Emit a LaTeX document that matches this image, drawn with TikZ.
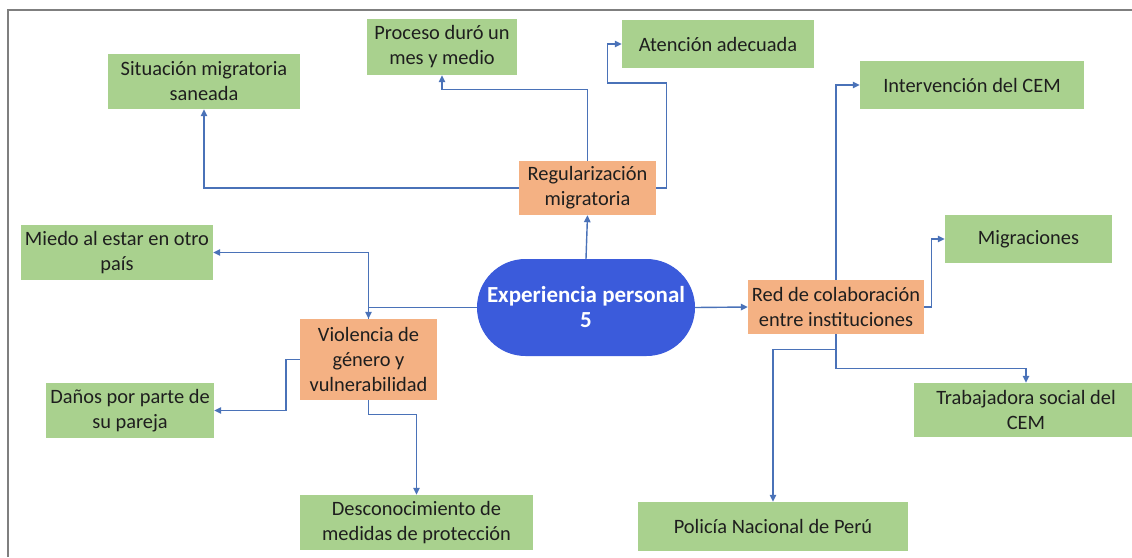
\documentclass[tikz,border=0pt]{standalone}
\usepackage{fontspec}
\setmainfont{Carlito}
\usetikzlibrary{arrows.meta,calc}
\definecolor{greenfill}{HTML}{A9D18E}
\definecolor{orangefill}{HTML}{F4B183}
\definecolor{bluefill}{HTML}{3B5BDB}
\definecolor{conncol}{HTML}{4A72B8}
\definecolor{framecol}{HTML}{7F7F7F}
\definecolor{txtcol}{HTML}{1E1E1E}
\begin{document}
\begin{tikzpicture}[x=1pt,y=-1pt,
  basebox/.style={inner sep=0pt, align=center, text=txtcol, font=\fontsize{20.4}{25}\selectfont},
  greenbox/.style={basebox, fill=greenfill},
  orangebox/.style={basebox, fill=orangefill},
  centerbox/.style={inner sep=0pt, align=center, text=white, fill=bluefill, font=\fontsize{23}{25}\selectfont\bfseries},
  arr/.style={draw=conncol, line width=1.4pt, -{Triangle[length=7pt,width=6.5pt]}},
  framestyle/.style={draw=framecol, line width=1.5pt}
]
\useasboundingbox (0,0) rectangle (1132,557);
% frame
\coordinate (fbl) at (8,557);
\coordinate (ftl) at (8,10);
\coordinate (ftr) at (1132,10);
\draw[framestyle] (fbl) -- (ftl) -- (ftr);

% nodes
\node[greenbox, minimum width=192pt, minimum height=55pt] (sit) at (204,81.5) {Situación migratoria\\saneada};
\node[greenbox, minimum width=150pt, minimum height=56pt] (proc) at (442,47) {Proceso duró un\\mes y medio};
\node[greenbox, minimum width=192pt, minimum height=48pt] (aten) at (718,44) {Atención adecuada};
\node[greenbox, minimum width=224pt, minimum height=48pt] (inter) at (972,85) {Intervención del CEM};
\node[greenbox, minimum width=167pt, minimum height=48pt] (migr) at (1028.5,239) {Migraciones};
\node[orangebox, minimum width=137pt, minimum height=54pt] (regu) at (587.5,188) {Regularización\\migratoria};
\node[greenbox, minimum width=192pt, minimum height=55pt] (miedo) at (117,252.5) {Miedo al estar en otro\\país};
\node[orangebox, minimum width=137pt, minimum height=81pt] (viol) at (368.5,359.5) {Violencia de\\género y\\vulnerabilidad};
\node[greenbox, minimum width=168pt, minimum height=55pt] (danos) at (130,410.5) {Daños por parte de\\su pareja};
\node[greenbox, minimum width=233pt, minimum height=55pt] (desc) at (416.5,522.5) {Desconocimiento de\\medidas de protección};
\node[centerbox, minimum width=218pt, minimum height=97pt, rounded corners=48.5pt] (exp) at (586,307.5) {Experiencia personal\\5};
\node[orangebox, minimum width=176pt, minimum height=54pt] (red) at (836,307) {Red de colaboración\\entre instituciones};
\node[greenbox, minimum width=224pt, minimum height=54pt] (trab) at (1026,410) {Trabajadora social del\\CEM};
\node[greenbox, minimum width=270pt, minimum height=49pt] (pol) at (773,526.5) {Policía Nacional de Perú};

% connectors
\draw[arr] (exp.north) -- (regu.south);
\draw[arr] (regu.west) -| (sit.south);
\draw[arr] (regu.north) |- ([yshift=-14pt]proc.south) -- (proc.south);
\draw[arr] (regu.east) -- ++(10,0) |- ++(-59,-105) |- (aten.west);
\draw[arr] (exp.west) -| (viol.north);
\draw[arr] (viol.north) |- (miedo.east);
\draw[arr] (viol.west) -- ++(-14,0) |- (danos.east);
\draw[arr] (viol.south) -- ++(0,14) -| (desc.north);
\draw[arr] (exp.east) -- (red.west);
\draw[arr] (red.north) |- (inter.west);
\draw[arr] (red.east) -- ++(7,0) |- (migr.west);
\draw[arr] (red.south) -- ++(0,34) -| (trab.north);
\draw[arr] (red.south) -- ++(0,15) -| (pol.north);
\end{tikzpicture}
\end{document}
